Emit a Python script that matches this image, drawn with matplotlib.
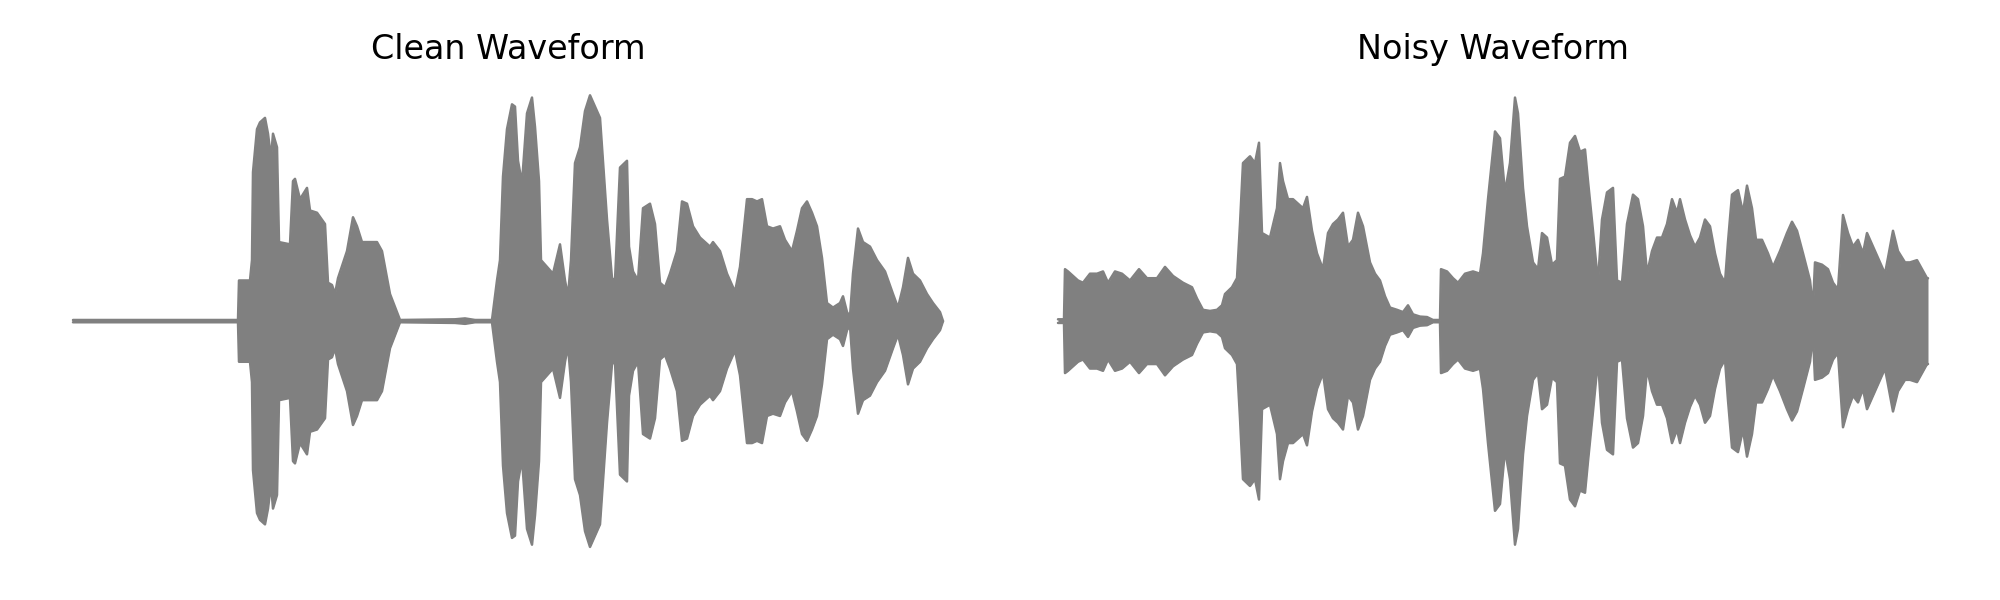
import matplotlib
matplotlib.use("Agg")
import matplotlib.pyplot as plt
import numpy as np

# envelope of each waveform: time (s) and peak amplitude (normalised, symmetric)
clean_t = [0.000, 0.825, 0.830, 0.885, 0.895, 0.900, 0.920, 0.935, 0.960, 0.975,
           0.990, 1.000, 1.020, 1.030, 1.085, 1.100, 1.110, 1.135, 1.170, 1.185,
           1.220, 1.260, 1.275, 1.295, 1.310, 1.325, 1.370, 1.400, 1.420, 1.445,
           1.485, 1.520, 1.545, 1.585, 1.620, 1.635, 1.910, 1.960, 2.010, 2.095,
           2.120, 2.135, 2.150, 2.170, 2.195, 2.210, 2.225, 2.245, 2.270, 2.295,
           2.310, 2.330, 2.340, 2.370, 2.400, 2.435, 2.460, 2.475, 2.490, 2.510,
           2.535, 2.560, 2.585, 2.610, 2.635, 2.650, 2.670, 2.695, 2.710, 2.735,
           2.770, 2.780, 2.800, 2.825, 2.850, 2.885, 2.910, 2.935, 2.960, 2.985,
           3.020, 3.045, 3.070, 3.100, 3.135, 3.185, 3.200, 3.235, 3.270, 3.310,
           3.335, 3.370, 3.395, 3.420, 3.445, 3.470, 3.500, 3.535, 3.560, 3.595,
           3.620, 3.645, 3.670, 3.695, 3.720, 3.745, 3.770, 3.800, 3.835, 3.850,
           3.870, 3.885, 3.900, 3.925, 3.950, 3.985, 4.020, 4.060, 4.100, 4.125,
           4.150, 4.175, 4.200, 4.235, 4.270, 4.300, 4.335, 4.350]
clean_amp = [0.005, 0.005, 0.18, 0.18, 0.27, 0.66, 0.85, 0.88, 0.90, 0.83,
             0.72, 0.83, 0.77, 0.35, 0.34, 0.62, 0.63, 0.54, 0.59, 0.49,
             0.48, 0.43, 0.17, 0.16, 0.12, 0.19, 0.31, 0.46, 0.42, 0.35,
             0.35, 0.35, 0.31, 0.12, 0.04, 0.005, 0.008, 0.012, 0.005, 0.005,
             0.18, 0.27, 0.64, 0.85, 0.96, 0.95, 0.71, 0.61, 0.92, 0.99,
             0.86, 0.62, 0.27, 0.24, 0.21, 0.34, 0.18, 0.11, 0.27, 0.70,
             0.77, 0.93, 1.00, 0.95, 0.90, 0.71, 0.45, 0.19, 0.18, 0.68,
             0.71, 0.33, 0.22, 0.18, 0.50, 0.52, 0.43, 0.17, 0.15, 0.21,
             0.31, 0.53, 0.52, 0.42, 0.37, 0.33, 0.35, 0.31, 0.21, 0.13,
             0.24, 0.54, 0.54, 0.53, 0.54, 0.42, 0.41, 0.42, 0.36, 0.31,
             0.40, 0.50, 0.53, 0.48, 0.42, 0.28, 0.08, 0.06, 0.08, 0.11,
             0.04, 0.02, 0.21, 0.41, 0.35, 0.33, 0.27, 0.22, 0.12, 0.06,
             0.15, 0.28, 0.21, 0.18, 0.12, 0.08, 0.04, 0.0]

noisy_t = [0.000, 0.030, 0.035, 0.050, 0.100, 0.125, 0.160, 0.195, 0.225, 0.250,
           0.285, 0.320, 0.360, 0.405, 0.445, 0.495, 0.535, 0.575, 0.625, 0.670,
           0.695, 0.725, 0.760, 0.795, 0.820, 0.835, 0.870, 0.895, 0.910, 0.925,
           0.960, 0.985, 1.005, 1.020, 1.060, 1.095, 1.110, 1.125, 1.150, 1.175,
           1.200, 1.225, 1.245, 1.270, 1.295, 1.325, 1.350, 1.375, 1.400, 1.425,
           1.450, 1.475, 1.500, 1.525, 1.560, 1.585, 1.610, 1.635, 1.660, 1.695,
           1.725, 1.750, 1.775, 1.810, 1.845, 1.875, 1.910, 1.915, 1.945, 1.975,
           2.000, 2.035, 2.075, 2.110, 2.125, 2.150, 2.185, 2.210, 2.235, 2.260,
           2.285, 2.300, 2.325, 2.345, 2.375, 2.400, 2.420, 2.445, 2.470, 2.495,
           2.510, 2.535, 2.560, 2.585, 2.610, 2.635, 2.650, 2.675, 2.700, 2.720,
           2.745, 2.775, 2.795, 2.820, 2.845, 2.875, 2.900, 2.925, 2.945, 2.970,
           2.995, 3.020, 3.045, 3.070, 3.095, 3.110, 3.135, 3.160, 3.185, 3.210,
           3.235, 3.260, 3.285, 3.310, 3.335, 3.350, 3.370, 3.400, 3.425, 3.445,
           3.470, 3.490, 3.520, 3.550, 3.575, 3.610, 3.645, 3.670, 3.695, 3.725,
           3.760, 3.775, 3.785, 3.820, 3.850, 3.875, 3.900, 3.910, 3.925, 3.950,
           3.975, 4.000, 4.025, 4.045, 4.075, 4.100, 4.135, 4.150, 4.175, 4.200,
           4.235, 4.260, 4.295, 4.320, 4.345, 4.350]
noisy_amp = [0.008, 0.008, 0.23, 0.22, 0.18, 0.17, 0.21, 0.21, 0.22, 0.17,
             0.22, 0.21, 0.18, 0.23, 0.19, 0.19, 0.24, 0.20, 0.17, 0.15,
             0.10, 0.05, 0.045, 0.05, 0.07, 0.12, 0.15, 0.19, 0.43, 0.70,
             0.73, 0.70, 0.79, 0.39, 0.37, 0.50, 0.70, 0.62, 0.54, 0.54,
             0.52, 0.50, 0.55, 0.40, 0.30, 0.23, 0.39, 0.43, 0.45, 0.48,
             0.33, 0.36, 0.48, 0.42, 0.26, 0.21, 0.18, 0.11, 0.06, 0.05,
             0.04, 0.07, 0.03, 0.02, 0.018, 0.005, 0.005, 0.23, 0.22, 0.19,
             0.17, 0.21, 0.22, 0.21, 0.30, 0.54, 0.84, 0.81, 0.57, 0.70,
             0.99, 0.92, 0.59, 0.42, 0.26, 0.23, 0.39, 0.37, 0.25, 0.27,
             0.63, 0.64, 0.79, 0.82, 0.75, 0.76, 0.62, 0.40, 0.17, 0.45,
             0.57, 0.59, 0.18, 0.17, 0.43, 0.56, 0.54, 0.42, 0.21, 0.31,
             0.37, 0.37, 0.43, 0.54, 0.48, 0.54, 0.45, 0.38, 0.33, 0.37,
             0.45, 0.42, 0.30, 0.21, 0.17, 0.35, 0.56, 0.58, 0.48, 0.60,
             0.50, 0.36, 0.36, 0.30, 0.24, 0.31, 0.39, 0.44, 0.40, 0.30,
             0.18, 0.06, 0.26, 0.25, 0.23, 0.17, 0.14, 0.27, 0.47, 0.39,
             0.33, 0.36, 0.30, 0.39, 0.33, 0.28, 0.21, 0.28, 0.40, 0.31,
             0.26, 0.26, 0.27, 0.23, 0.19, 0.19]

titles = ["Clean Waveform", "Noisy Waveform"]
waves = [(clean_t, clean_amp), (noisy_t, noisy_amp)]

fig = plt.figure(figsize=(20, 6), dpi=100)
lefts = [0.01475, 0.50725]
for i in range(2):
    ax = fig.add_axes([lefts[i], 0.0508, 0.4785, 0.828])
    t = np.array(waves[i][0])
    a = np.array(waves[i][1])
    ax.fill_between(t, -a, a, color="gray", linewidth=0)
    # outline gives the rounded look of the thick sample line
    ax.plot(t, a, color="gray", linewidth=1.8, solid_capstyle="round")
    ax.plot(t, -a, color="gray", linewidth=1.8, solid_capstyle="round")
    ax.set_xlim(-0.2175, 4.5675)
    ax.set_ylim(-1.1, 1.1)
    ax.set_title(titles[i], fontsize=24, pad=10)
    ax.axis("off")

plt.savefig("out.png")
